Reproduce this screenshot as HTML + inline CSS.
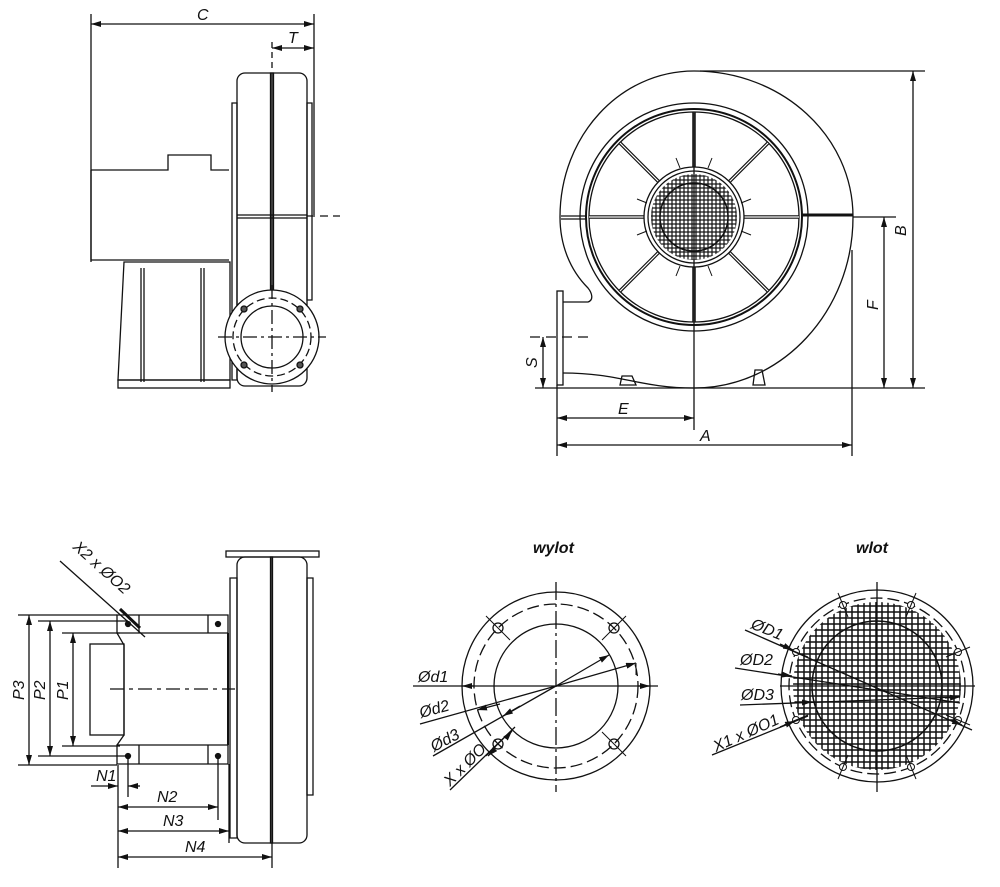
<!DOCTYPE html>
<html><head><meta charset="utf-8"><style>
html,body{margin:0;padding:0;background:#fff}
svg{display:block}
text{font-family:"Liberation Sans",sans-serif;font-style:italic;font-size:16px;fill:#111}
</style></head><body>
<svg width="1000" height="887" viewBox="0 0 1000 887" xmlns="http://www.w3.org/2000/svg">
<defs>
<marker id="a" viewBox="0 0 10 6" refX="10" refY="3" markerWidth="10" markerHeight="6" orient="auto-start-reverse" markerUnits="userSpaceOnUse"><path d="M0,0L10,3L0,6z" fill="#111"/></marker>
<pattern id="g" width="6" height="6" patternUnits="userSpaceOnUse"><rect width="6" height="6" fill="#fff" stroke="#111" stroke-width="1.5"/></pattern>
<pattern id="g2" width="4" height="4" patternUnits="userSpaceOnUse"><rect width="4" height="4" fill="#fff" stroke="#111" stroke-width="1.2"/></pattern>
<clipPath id="c1"><circle cx="694" cy="217" r="43"/></clipPath>
</defs>
<g fill="none" stroke="#111" stroke-width="1.3">
<!-- ===== TOP LEFT ===== -->
<line x1="91" y1="14" x2="91" y2="262"/>
<line x1="314" y1="14" x2="314" y2="215"/>
<line x1="91" y1="24" x2="314" y2="24" marker-start="url(#a)" marker-end="url(#a)"/>
<line x1="272" y1="48" x2="314" y2="48" marker-start="url(#a)" marker-end="url(#a)"/>
<line x1="272" y1="42" x2="272" y2="70" stroke-dasharray="6 4"/>
<path d="M91,170H168V155H211V170H229"/>
<path d="M91,170V260H229"/>
<path d="M124,262L118,380H230V262Z"/>
<rect x="118" y="380" width="112" height="8"/>
<path d="M141,268V382M144,268V382M201,268V382M204,268V382"/>
<rect x="237" y="73" width="70" height="313" rx="8"/>
<path d="M232,103H237V380H232Z"/>
<path d="M307,103H312V300H307Z"/>
<rect x="270.5" y="73" width="3" height="240" fill="#444"/>
<path d="M237,215H307M237,218H307"/>
<line x1="307" y1="216" x2="340" y2="216" stroke-dasharray="8 5"/>
<circle cx="272" cy="337" r="47" fill="#fff"/>
<circle cx="272" cy="337" r="39" stroke-dasharray="8 4"/>
<circle cx="272" cy="337" r="31"/>
<circle cx="244" cy="309" r="3" fill="#555"/><circle cx="300" cy="309" r="3" fill="#555"/>
<circle cx="244" cy="365" r="3" fill="#555"/><circle cx="300" cy="365" r="3" fill="#555"/>
<line x1="218" y1="337" x2="326" y2="337" stroke-dasharray="14 4 3 4"/>
<line x1="272" y1="285" x2="272" y2="392" stroke-dasharray="14 4 3 4"/>
<!-- ===== TOP RIGHT ===== -->
<path d="M563,302H588C594,300 592,293 588,288C570,270 560,245 560,217C560,136 620,71 694,71C782,71 853,136 853,217C853,311 782,388 694,388C640,388 620,373 563,373"/>
<rect x="557" y="291" width="6" height="94"/>
<path d="M620,385L622,376H632L636,385Z"/>
<path d="M753,385L755,370H762L765,385Z"/>
<circle cx="694" cy="217" r="114"/>
<circle cx="694" cy="217" r="108" stroke-width="2"/>
<circle cx="694" cy="217" r="105"/>
<path d="M561,216H586M561,219H586"/>
<path d="M802,215H853" stroke-width="3"/>
<g stroke-width="3.5"><g>
<line x1="743" y1="217" x2="799" y2="217"/><line x1="645" y1="217" x2="589" y2="217"/>
<line x1="694" y1="168" x2="694" y2="112"/><line x1="694" y1="266" x2="694" y2="322"/>
<line x1="729" y1="182" x2="768" y2="143"/><line x1="659" y1="182" x2="620" y2="143"/>
<line x1="729" y1="252" x2="768" y2="291"/><line x1="659" y1="252" x2="620" y2="291"/>
</g></g>
<g stroke="#fff" stroke-width="1.2"><g>
<line x1="743" y1="217" x2="799" y2="217"/><line x1="645" y1="217" x2="589" y2="217"/>
<line x1="694" y1="168" x2="694" y2="112"/><line x1="694" y1="266" x2="694" y2="322"/>
<line x1="729" y1="182" x2="768" y2="143"/><line x1="659" y1="182" x2="620" y2="143"/>
<line x1="729" y1="252" x2="768" y2="291"/><line x1="659" y1="252" x2="620" y2="291"/>
</g></g>
<circle cx="694" cy="217" r="50" fill="#fff"/>
<circle cx="694" cy="217" r="46"/>
<rect x="650" y="173" width="88" height="88" fill="url(#g2)" clip-path="url(#c1)" stroke="none"/>
<circle cx="694" cy="217" r="34" stroke-width="1.5"/>
<path d="M680,168L676,158M708,168L712,158M680,266L676,276M708,266L712,276M647,203L637,199M741,203L751,199M647,231L637,235M741,231L751,235" stroke-width="1"/>
<line x1="694" y1="112" x2="694" y2="430"/>
<line x1="700" y1="71" x2="925" y2="71"/>
<line x1="535" y1="388" x2="925" y2="388"/>
<line x1="853" y1="217" x2="896" y2="217"/>
<line x1="913" y1="71" x2="913" y2="388" marker-start="url(#a)" marker-end="url(#a)"/>
<line x1="884" y1="217" x2="884" y2="388" marker-start="url(#a)" marker-end="url(#a)"/>
<line x1="530" y1="337" x2="594" y2="337" stroke-dasharray="10 6"/>
<line x1="543" y1="337" x2="543" y2="388" marker-start="url(#a)" marker-end="url(#a)"/>
<line x1="557" y1="385" x2="557" y2="456"/>
<line x1="852" y1="250" x2="852" y2="456"/>
<line x1="557" y1="418" x2="694" y2="418" marker-start="url(#a)" marker-end="url(#a)"/>
<line x1="557" y1="445" x2="852" y2="445" marker-start="url(#a)" marker-end="url(#a)"/>
<!-- ===== BOTTOM LEFT ===== -->
<rect x="226" y="551" width="93" height="6"/>
<rect x="237" y="557" width="70" height="286" rx="8"/>
<rect x="270.5" y="557" width="2" height="286" fill="#444"/>
<path d="M230,578H237V838H230Z"/>
<path d="M307,578H313V795H307Z"/>
<path d="M117,615H228V633H117Z"/>
<path d="M117,745H228V764H117Z"/>
<path d="M139,615V633M208,615V633M139,745V764M208,745V764"/>
<path d="M117,633L124,645V735L117,745"/>
<rect x="90" y="644" width="34" height="91"/>
<path d="M228,633V745" stroke-width="2"/>
<circle cx="128" cy="624" r="2.5" fill="#111"/><circle cx="218" cy="624" r="2.5" fill="#111"/>
<circle cx="128" cy="756" r="2.5" fill="#111"/><circle cx="218" cy="756" r="2.5" fill="#111"/>
<line x1="110" y1="689" x2="235" y2="689" stroke-dasharray="14 5 4 5"/>
<line x1="60" y1="561" x2="145" y2="637"/>
<line x1="120" y1="609" x2="140" y2="628" stroke-width="3"/>
<line x1="18" y1="615" x2="117" y2="615"/>
<line x1="38" y1="621" x2="128" y2="621"/>
<line x1="62" y1="633" x2="120" y2="633"/>
<line x1="62" y1="746" x2="120" y2="746"/>
<line x1="38" y1="756" x2="128" y2="756"/>
<line x1="18" y1="765" x2="117" y2="765"/>
<line x1="29" y1="615" x2="29" y2="765" marker-start="url(#a)" marker-end="url(#a)"/>
<line x1="50" y1="621" x2="50" y2="756" marker-start="url(#a)" marker-end="url(#a)"/>
<line x1="73" y1="633" x2="73" y2="746" marker-start="url(#a)" marker-end="url(#a)"/>
<line x1="118" y1="765" x2="118" y2="868"/>
<line x1="128" y1="756" x2="128" y2="797"/>
<line x1="218" y1="756" x2="218" y2="820"/>
<line x1="229" y1="764" x2="229" y2="843"/>
<line x1="272" y1="843" x2="272" y2="868"/>
<line x1="91" y1="786" x2="118" y2="786" marker-end="url(#a)"/>
<line x1="140" y1="786" x2="128" y2="786" marker-end="url(#a)"/>
<line x1="118" y1="807" x2="218" y2="807" marker-start="url(#a)" marker-end="url(#a)"/>
<line x1="118" y1="831" x2="229" y2="831" marker-start="url(#a)" marker-end="url(#a)"/>
<line x1="118" y1="857" x2="272" y2="857" marker-start="url(#a)" marker-end="url(#a)"/>
<!-- ===== WYLOT ===== -->
<circle cx="556" cy="686" r="94"/>
<circle cx="556" cy="686" r="82" stroke-dasharray="12 5"/>
<circle cx="556" cy="686" r="62"/>
<line x1="556" y1="582" x2="556" y2="792" stroke-dasharray="18 4 3 4"/>
<line x1="413" y1="686" x2="658" y2="686"/>
<g>
<circle cx="498" cy="628" r="5"/><circle cx="614" cy="628" r="5"/><circle cx="498" cy="744" r="5"/><circle cx="614" cy="744" r="5"/>
<path d="M486,616L510,640M626,616L602,640M486,756L510,732M626,756L602,732" stroke-width="1"/>
</g>
<line x1="462" y1="686" x2="474" y2="686" marker-start="url(#a)"/>
<line x1="638" y1="686" x2="650" y2="686" marker-end="url(#a)"/>
<line x1="420" y1="724" x2="556" y2="686"/>
<line x1="500" y1="704" x2="477" y2="710" marker-end="url(#a)"/>
<line x1="556" y1="686" x2="636" y2="663" marker-end="url(#a)"/>
<line x1="636" y1="663" x2="636" y2="675" stroke-width="1"/>
<line x1="433" y1="756" x2="556" y2="686"/>
<line x1="520" y1="706" x2="503" y2="716" marker-end="url(#a)"/>
<line x1="556" y1="686" x2="609" y2="655" marker-end="url(#a)"/>
<line x1="450" y1="790" x2="515" y2="727"/>
<line x1="495" y1="749" x2="488" y2="756" marker-end="url(#a)"/>
<line x1="506" y1="738" x2="512" y2="731" marker-end="url(#a)"/>
<!-- ===== WLOT ===== -->
<circle cx="877" cy="686" r="84" fill="url(#g)" stroke="none"/>
<circle cx="877" cy="686" r="96"/>
<circle cx="877" cy="686" r="88" stroke-dasharray="12 5"/>
<circle cx="877" cy="686" r="65" stroke-width="1.5"/>
<line x1="877" y1="582" x2="877" y2="792"/>
<line x1="780" y1="686" x2="975" y2="686"/>
<g stroke-width="1">
<circle cx="843" cy="605" r="3.5" fill="#fff"/><circle cx="911" cy="605" r="3.5" fill="#fff"/>
<circle cx="843" cy="767" r="3.5" fill="#fff"/><circle cx="911" cy="767" r="3.5" fill="#fff"/>
<circle cx="796" cy="652" r="3.5" fill="#fff"/><circle cx="958" cy="652" r="3.5" fill="#fff"/>
<circle cx="796" cy="720" r="3.5" fill="#fff"/><circle cx="958" cy="720" r="3.5" fill="#fff"/>
<path d="M838,593L848,617M916,593L906,617M838,779L848,755M916,779L906,755M784,647L808,657M970,647L946,657M784,725L808,715M970,725L946,715"/>
</g>
<line x1="745" y1="630" x2="972" y2="730"/>
<line x1="735" y1="668" x2="960" y2="703"/>
<line x1="740" y1="705" x2="958" y2="697"/>
<line x1="712" y1="755" x2="808" y2="716"/>
<line x1="780" y1="644" x2="793" y2="650" marker-end="url(#a)"/>
<line x1="778" y1="674" x2="792" y2="676" marker-end="url(#a)"/>
<line x1="790" y1="703" x2="812" y2="702" marker-end="url(#a)"/>
<line x1="780" y1="727" x2="795" y2="721" marker-end="url(#a)"/>
<line x1="950" y1="720" x2="962" y2="725" marker-end="url(#a)"/>
<line x1="945" y1="698" x2="960" y2="697" marker-end="url(#a)"/>
</g>
<!-- labels -->
<text x="197" y="20">C</text>
<text x="288" y="43">T</text>
<text x="618" y="414">E</text>
<text x="700" y="441">A</text>
<text transform="translate(906,236) rotate(-90)">B</text>
<text transform="translate(878,310) rotate(-90)">F</text>
<text transform="translate(537,368) rotate(-90)">S</text>
<text transform="translate(24,700) rotate(-90)">P3</text>
<text transform="translate(45,700) rotate(-90)">P2</text>
<text transform="translate(68,700) rotate(-90)">P1</text>
<text x="96" y="781">N1</text>
<text x="157" y="802">N2</text>
<text x="163" y="826">N3</text>
<text x="185" y="852">N4</text>
<text transform="translate(72,548) rotate(42)">X2 x ØO2</text>
<text x="533" y="553" style="font-weight:bold">wylot</text>
<text x="856" y="553" style="font-weight:bold">wlot</text>
<text x="418" y="682">Ød1</text>
<text transform="translate(421,718) rotate(-15)">Ød2</text>
<text transform="translate(434,752) rotate(-28)">Ød3</text>
<text transform="translate(450,787) rotate(-45)">X x ØO</text>
<text transform="translate(750,628) rotate(22)">ØD1</text>
<text x="740" y="665">ØD2</text>
<text x="741" y="700">ØD3</text>
<text transform="translate(716,752) rotate(-24)">X1 x ØO1</text>
</svg>
</body></html>
